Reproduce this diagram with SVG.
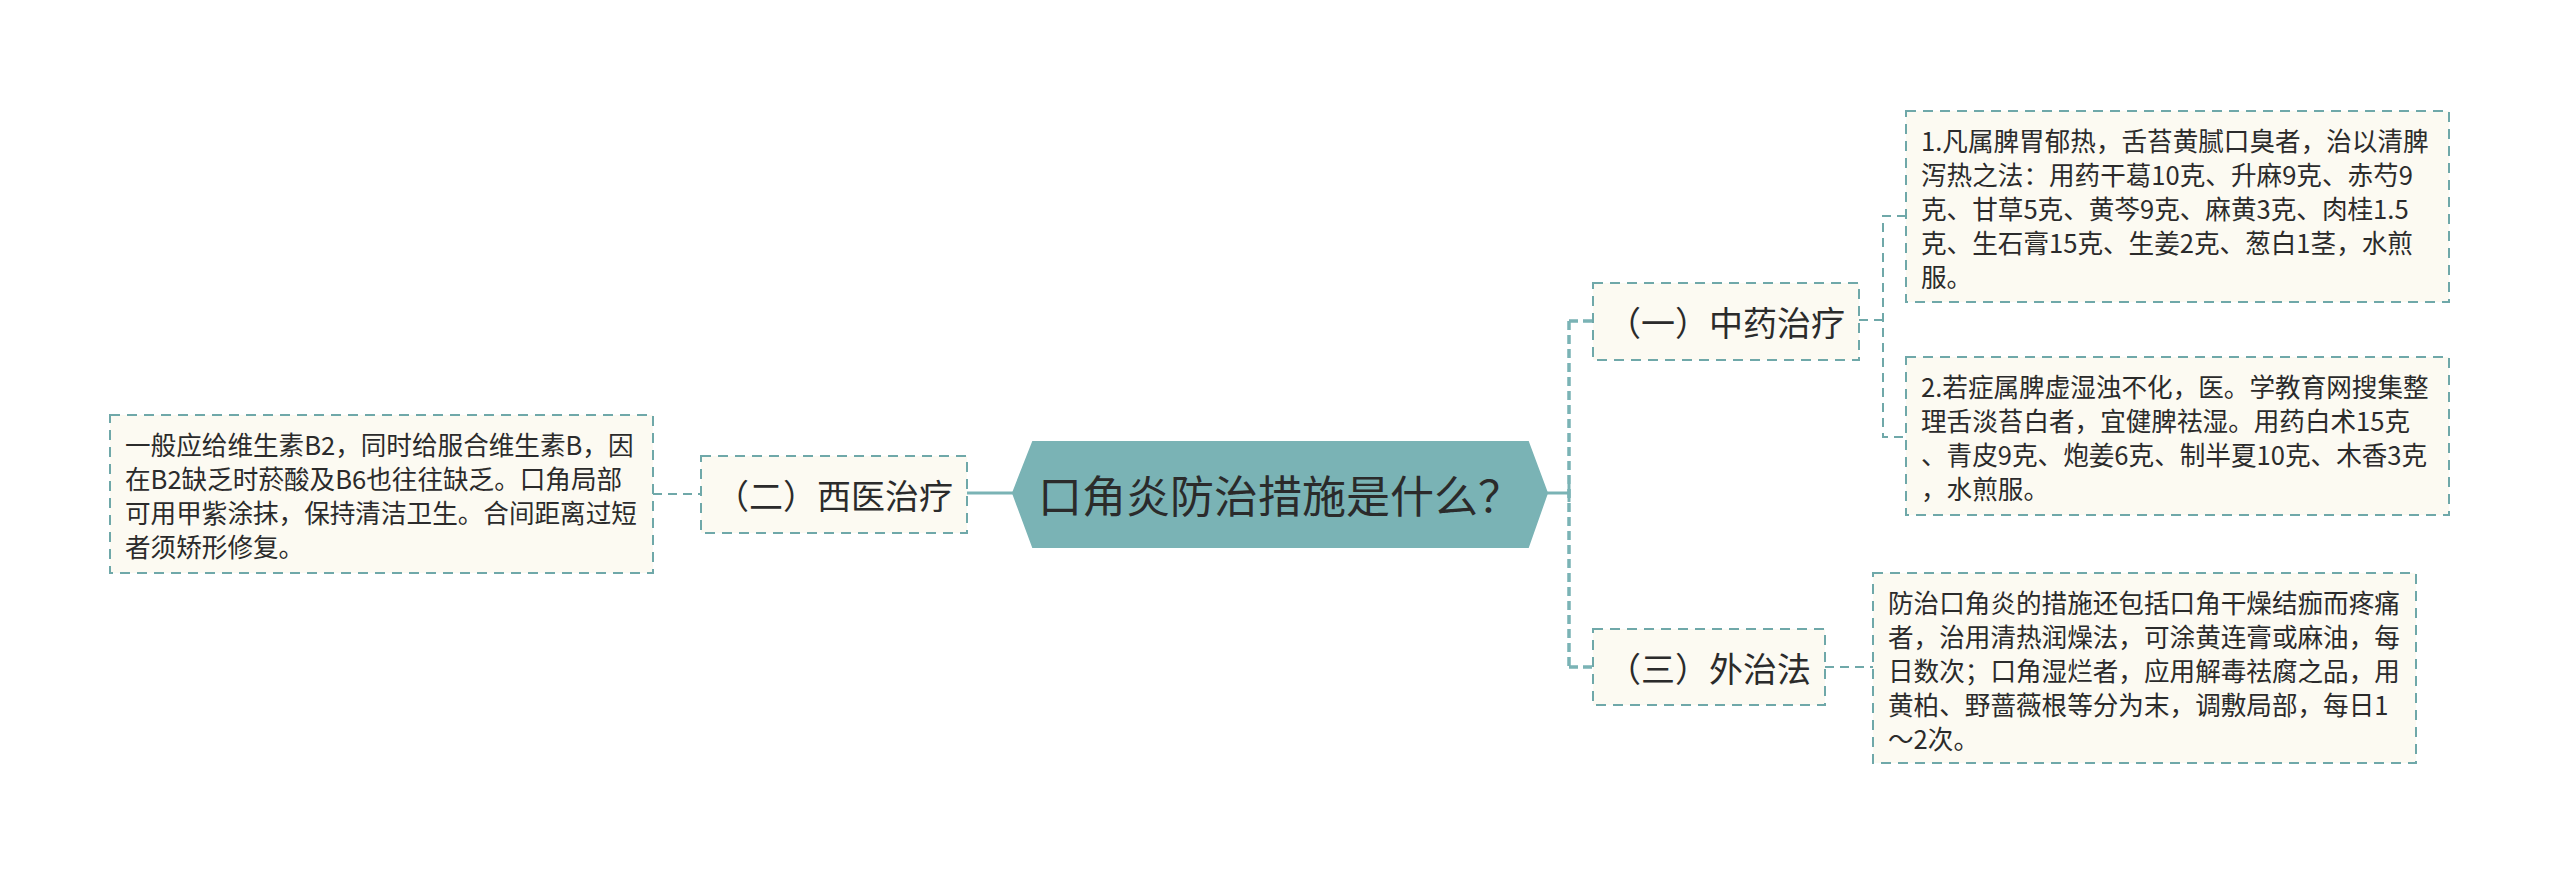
<svg xmlns="http://www.w3.org/2000/svg" width="2560" height="874" viewBox="0 0 2560 874">
<style>
.bg{fill:#ffffff}
.box{fill:#FCFAF2;stroke:#6FA8A9;stroke-width:2;stroke-dasharray:10 7}
.hex{fill:#7AB3B5;stroke:#7AB3B5;stroke-width:2}
.t{font-family:"Noto Sans CJK SC","Noto Sans",sans-serif;fill:#2b2b2b}
.main{font-size:44px;fill:#2b2b2b}
.sub{font-size:34px}
.leaf{font-size:25.6px}
.solid{fill:none;stroke:#7AB3B5;stroke-width:3}
.trunk{fill:none;stroke:#7AB3B5;stroke-width:3.5;stroke-dasharray:9 5}
.thin{fill:none;stroke:#6FA8A9;stroke-width:2;stroke-dasharray:9 6}
</style>
<rect class="bg" x="0" y="0" width="2560" height="874"/>
<g id="connectors">
  <line class="solid" x1="967" y1="493" x2="1013" y2="493"/>
  <line class="solid" x1="1547" y1="493" x2="1569" y2="493"/>
  <line class="solid" x1="1569" y1="484" x2="1569" y2="502"/>
  <path class="trunk" d="M1569 321 V667"/>
  <path class="trunk" d="M1569 321 H1593"/>
  <path class="trunk" d="M1569 667 H1593"/>
  <path class="thin" d="M653 494 H701"/>
  <path class="thin" d="M1859 320 H1883"/>
  <path class="thin" d="M1906 216 H1883 V437 H1906"/>
  <path class="thin" d="M1825 667 H1873"/>
</g>
<g id="center">
  <polygon class="hex" points="1013,493 1033,442 1528,442 1547,493 1528,547 1033,547"/>
  <text class="t main" x="1280" y="494" text-anchor="middle" dominant-baseline="central">口角炎防治措施是什么？</text>
</g>
<g id="n-xiyi">
  <rect class="box" x="701" y="456" width="266" height="77"/>
  <text class="t sub" x="834" y="494.5" text-anchor="middle" dominant-baseline="central">（二）西医治疗</text>
</g>
<g id="n-zhongyao">
  <rect class="box" x="1593" y="283" width="266" height="77"/>
  <text class="t sub" x="1726" y="321.5" text-anchor="middle" dominant-baseline="central">（一）中药治疗</text>
</g>
<g id="n-waizhi">
  <rect class="box" x="1593" y="629" width="232" height="76"/>
  <text class="t sub" x="1709" y="667" text-anchor="middle" dominant-baseline="central">（三）外治法</text>
</g>
<g id="leaf-left">
  <rect class="box" x="110" y="415" width="543" height="158"/>
  <text class="t leaf" dominant-baseline="central">
    <tspan x="125" y="443">一般应给维生素B2，同时给服合维生素B，因</tspan>
    <tspan x="125" y="477">在B2缺乏时菸酸及B6也往往缺乏。口角局部</tspan>
    <tspan x="125" y="511">可用甲紫涂抹，保持清洁卫生。合间距离过短</tspan>
    <tspan x="125" y="545">者须矫形修复。</tspan>
  </text>
</g>
<g id="leaf-1">
  <rect class="box" x="1906" y="111" width="543" height="191"/>
  <text class="t leaf" dominant-baseline="central">
    <tspan x="1921" y="138.5">1.凡属脾胃郁热，舌苔黄腻口臭者，治以清脾</tspan>
    <tspan x="1921" y="172.5">泻热之法：用药干葛10克、升麻9克、赤芍9</tspan>
    <tspan x="1921" y="206.5">克、甘草5克、黄芩9克、麻黄3克、肉桂1.5</tspan>
    <tspan x="1921" y="240.5">克、生石膏15克、生姜2克、葱白1茎，水煎</tspan>
    <tspan x="1921" y="274.5">服。</tspan>
  </text>
</g>
<g id="leaf-2">
  <rect class="box" x="1906" y="357" width="543" height="158"/>
  <text class="t leaf" dominant-baseline="central">
    <tspan x="1921" y="385">2.若症属脾虚湿浊不化，医。学教育网搜集整</tspan>
    <tspan x="1921" y="419">理舌淡苔白者，宜健脾祛湿。用药白术15克</tspan>
    <tspan x="1921" y="453">、青皮9克、炮姜6克、制半夏10克、木香3克</tspan>
    <tspan x="1921" y="487">，水煎服。</tspan>
  </text>
</g>
<g id="leaf-3">
  <rect class="box" x="1873" y="573" width="543" height="190"/>
  <text class="t leaf" dominant-baseline="central">
    <tspan x="1888" y="600.5">防治口角炎的措施还包括口角干燥结痂而疼痛</tspan>
    <tspan x="1888" y="634.5">者，治用清热润燥法，可涂黄连膏或麻油，每</tspan>
    <tspan x="1888" y="668.5">日数次；口角湿烂者，应用解毒祛腐之品，用</tspan>
    <tspan x="1888" y="702.5">黄柏、野蔷薇根等分为末，调敷局部，每日1</tspan>
    <tspan x="1888" y="736.5">～2次。</tspan>
  </text>
</g>
</svg>
